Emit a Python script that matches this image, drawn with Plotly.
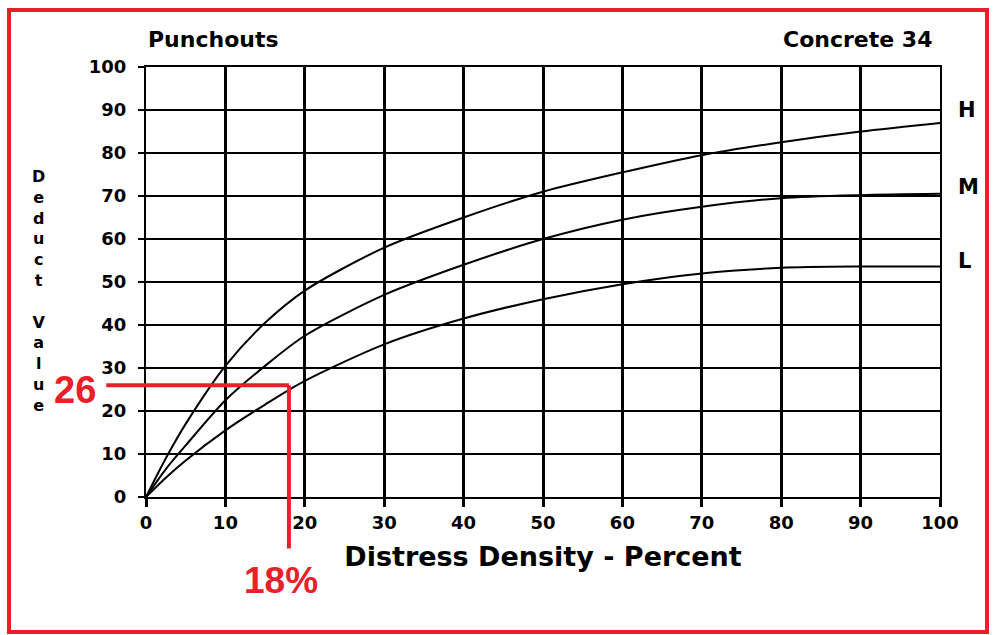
import plotly.graph_objects as go

density = [0, 2.5, 5, 10, 15, 20, 30, 40, 50, 60, 70, 80, 90, 100]
high = [0, 9, 17, 30.5, 40.5, 48, 58, 65, 71, 75.5, 79.5, 82.5, 85, 87]
medium = [0, 6.5, 12, 22.5, 30.5, 37.5, 47, 54, 60, 64.5, 67.5, 69.5, 70.2, 70.5]
low = [0, 4.5, 8.5, 15.5, 21.5, 27, 35.5, 41.5, 46, 49.5, 52, 53.3, 53.6, 53.6]
series_names = ["H", "M", "L"]
label_y = [90, 72, 55]
ticks = list(range(0, 101, 10))
read_x = 18
read_y = 26

RED = "#e8202a"
BOLD = "DejaVu Sans"
fig = go.Figure()
for vals in (high, medium, low):
    fig.add_trace(go.Scatter(x=density, y=vals, mode="lines",
                             line=dict(color="black", width=2, shape="spline", smoothing=0.8),
                             showlegend=False, hoverinfo="skip"))

fig.update_layout(
    width=993, height=635,
    margin=dict(l=146, r=53, t=67, b=138),
    paper_bgcolor="white", plot_bgcolor="white",
    font=dict(family=BOLD, color="black"),
)
fig.update_xaxes(range=[0, 100], tickvals=ticks, ticktext=[str(t) for t in ticks],
                 showgrid=True, gridcolor="black", gridwidth=2.5,
                 zeroline=False, showline=True, linecolor="black", linewidth=2, mirror=True,
                 ticks="outside", ticklen=8, tickwidth=2.5, tickcolor="black",
                 tickfont=dict(size=18, family=BOLD, weight="bold"),
                 title=dict(text="Distress Density - Percent", standoff=16,
                            font=dict(size=27, family=BOLD, weight="bold")))
fig.update_yaxes(range=[0, 100], tickvals=ticks, ticktext=[str(t) for t in ticks],
                 showgrid=True, gridcolor="black", gridwidth=2,
                 zeroline=False, showline=True, linecolor="black", linewidth=2, mirror=True,
                 ticks="outside", ticklen=6, tickwidth=2, tickcolor="black",
                 ticklabelstandoff=8,
                 tickfont=dict(size=18, family=BOLD, weight="bold"))

# y title stacked letters
fig.add_annotation(xref="paper", yref="paper", x=-0.135, y=0.48, xanchor="center", yanchor="middle",
                   text="<br>".join(list("Deduct")) + "<br><br>" + "<br>".join(list("Value")),
                   showarrow=False, font=dict(size=16, family=BOLD, weight="bold"))
fig.add_annotation(xref="paper", yref="paper", x=0, y=1.03, xanchor="left", yanchor="bottom",
                   text="Punchouts", showarrow=False,
                   font=dict(size=22, family=BOLD, weight="bold"))
fig.add_annotation(xref="paper", yref="paper", x=0.993, y=1.03, xanchor="right", yanchor="bottom",
                   text="Concrete 34", showarrow=False,
                   font=dict(size=22, family=BOLD, weight="bold"))
for name, yv in zip(series_names, label_y):
    fig.add_annotation(xref="paper", yref="y", x=1.02, y=yv, xanchor="left", yanchor="middle",
                       text=name, showarrow=False,
                       font=dict(size=21, family=BOLD, weight="bold"))

# red reading lines (in domain coordinates so they are not clipped)
xd = read_x / 100
yd = read_y / 100
fig.add_shape(type="line", xref="x domain", yref="y domain", x0=-0.05, x1=xd, y0=yd, y1=yd,
              line=dict(color=RED, width=4))
fig.add_shape(type="line", xref="x domain", yref="y domain", x0=xd, x1=xd, y0=yd, y1=-0.12,
              line=dict(color=RED, width=4))
NARROW = "Liberation Sans Narrow, Arial Narrow, Liberation Sans, sans-serif"
fig.add_annotation(xref="x domain", yref="y domain", x=-0.09, y=yd - 0.01, xanchor="center", yanchor="middle",
                   text=str(read_y), showarrow=False,
                   font=dict(size=38, color=RED, family=NARROW, weight="bold"))
fig.add_annotation(xref="x domain", yref="y domain", x=xd - 0.01, y=-0.195, xanchor="center", yanchor="middle",
                   text=f"{read_x}%", showarrow=False,
                   font=dict(size=37, color=RED, family=NARROW, weight="bold"))

# red frame around the whole picture
fig.add_shape(type="rect", xref="paper", yref="paper",
              x0=(9 - 146) / 794, x1=(987 - 146) / 794, y0=(497 - 632) / 430, y1=(497 - 10) / 430,
              line=dict(color=RED, width=4), fillcolor="rgba(0,0,0,0)")

fig.write_html("out.html")
